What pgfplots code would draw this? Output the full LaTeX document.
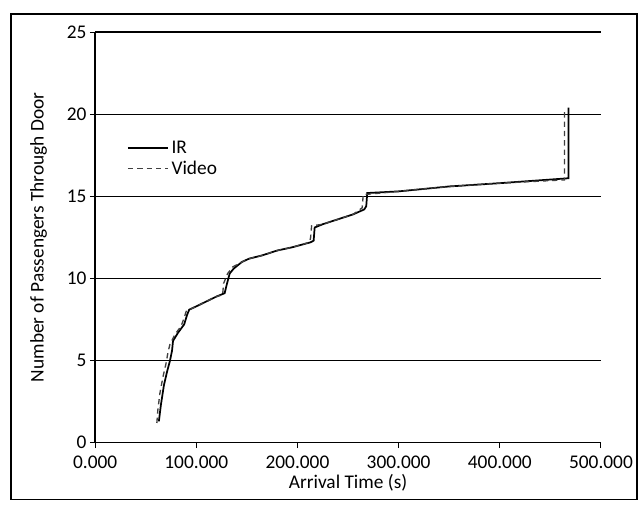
\documentclass[border=0pt]{standalone}
\usepackage{pgfplots}
\pgfplotsset{compat=1.18}
\usepackage{fontspec}
\setmainfont{Carlito}

\begin{document}
\begin{tikzpicture}
  \begin{axis}[
      name=ax,
      scale only axis,
      width=378.75pt, height=307.5pt,
      xmin=0, xmax=500, ymin=0, ymax=25,
      axis lines*=left,
      axis line style={line width=1pt},
      xtick={0,100,200,300,400,500},
      ytick={0,5,10,15,20,25},
      tick align=outside,
      major tick length=4pt,
      tick style={line width=0.8pt, black},
      xticklabel style={yshift=-2.5pt, /pgf/number format/.cd, fixed, fixed zerofill, precision=3, 1000 sep={}},
      yticklabel style={xshift=1pt},
      /pgf/number format/assume math mode=true,
      ymajorgrids=true,
      grid style={line width=1pt, black},
      font=\fontsize{14.5}{16}\selectfont,
      xlabel={Arrival Time (s)},
      ylabel={Number of Passengers Through Door},
      xlabel style={yshift=3pt},
      ylabel style={yshift=8pt},
      legend style={at={(rel axis cs:0.06,0.745)}, anchor=north west,
        draw=none, fill=none, inner sep=1pt, row sep=0pt,
        font=\fontsize{14.5}{16}\selectfont},
      legend cell align=left,
      legend image code/.code={\draw[#1] (0pt,0pt) -- (30pt,0pt);},
    ]

    % IR
    \addplot[black, line width=1.3pt] coordinates {
      (63,1.3) (65,2.3) (68,3.5) (71,4.3) (74,5.0) (76,5.6) (77,6.2)
      (82,6.7) (88,7.2) (91,7.8) (93,8.1) (100,8.3) (110,8.6) (120,8.9)
      (128,9.1) (130,9.6) (133,10.3) (137,10.6) (145,11.0) (152,11.2)
      (165,11.4) (180,11.7) (195,11.9) (213,12.2) (216,12.3) (217,13.1)
      (225,13.3) (240,13.6) (255,13.9) (266,14.2) (268,14.4) (269,15.2)
      (300,15.3) (350,15.6) (400,15.8) (468,16.1) (468,20.4)
    };
    \addlegendentry{IR}

    % Video
    \addplot[black!75, line width=1pt, dash pattern=on 4pt off 3pt] coordinates {
      (61,1.2) (62,2.0) (64,3.0) (67,4.0) (70,4.8) (72,5.5) (74,6.0)
      (79,6.6) (85,7.1) (88,7.6) (90,8.0) (100,8.3) (110,8.6) (120,8.9)
      (126,9.0) (127,9.7) (131,10.3) (136,10.7) (145,11.0) (152,11.2)
      (165,11.4) (180,11.7) (195,11.9) (212,12.2) (213,12.5) (214,13.2)
      (225,13.3) (240,13.6) (255,13.9) (264,14.3) (265,15.1)
      (300,15.3) (350,15.6) (400,15.8) (464,16.0) (464,20.2)
    };
    \addlegendentry{Video}
  \end{axis}
  % chart area frame and page extent
  \draw[line width=1pt] ([shift={(-63pt,-42.75pt)}]ax.south west) rectangle ([shift={(27pt,13.5pt)}]ax.north east);
  \path ([shift={(-71.25pt,-49.5pt)}]ax.south west) rectangle ([shift={(31.5pt,24pt)}]ax.north east);
\end{tikzpicture}
\end{document}
